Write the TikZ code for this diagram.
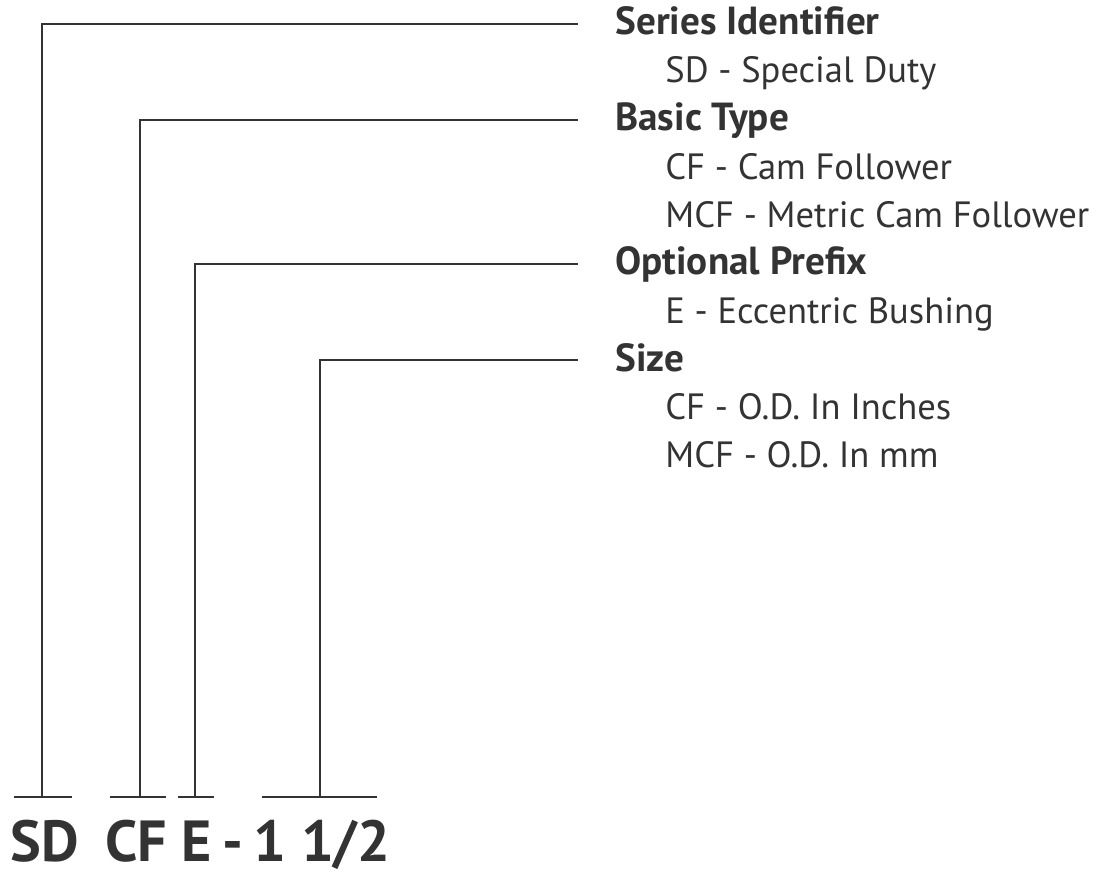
\documentclass[tikz,border=0pt]{standalone}
\usepackage{fontspec}
\setmainfont{PT Sans}
\usetikzlibrary{positioning}

\begin{document}
\begin{tikzpicture}[
    x=0.02cm, y=-0.02cm,
    ink/.style={black!80},
    head/.style={anchor=base west, inner sep=0pt, ink, font=\fontsize{22.3}{26}\selectfont\bfseries},
    item/.style={anchor=base west, inner sep=0pt, ink, font=\fontsize{20.8}{24}\selectfont},
    code/.style={anchor=base, inner sep=0pt, ink, font=\fontsize{33}{38}\selectfont\bfseries},
    lead/.style={ink, line width=1.1pt},
    tick/.style={ink, line width=1.1pt}
]
\useasboundingbox (0,0) rectangle (1096,875);

% part number along the bottom
\node[code] (sd) at (45,861) {SD};
\node[code] (cf) at (136,861) {CF};
\node[code] (ecc) at (197,861) {E};
\node[code] (dash) at (233,861) {-};
\node[code] (size) at (322,861) {1 1/2};

% key on the right
\node[head] (ser) at (615,35) {Series Identifier};
\node[item] (sd1) at (665,83) {SD - Special Duty};
\node[head] (bas) at (615,131) {Basic Type};
\node[item] (cf1) at (665,179) {CF - Cam Follower};
\node[item] (cf2) at (665,227) {MCF - Metric Cam Follower};
\node[head] (opt) at (615,275) {Optional Prefix};
\node[item] (ecc1) at (665,323) {E - Eccentric Bushing};
\node[head] (siz) at (615,371) {Size};
\node[item] (siz1) at (665,419) {CF - O.D. In Inches};
\node[item] (siz2) at (665,467) {MCF - O.D. In mm};

% ticks over the code
\draw[tick] (14,797) -- (72,797);
\draw[tick] (110,797) -- (166,797);
\draw[tick] (178,797) -- (214,797);
\draw[tick] (262,797) -- (377,797);

\coordinate (k1) at (42,797);
\coordinate (k2) at (140,797);
\coordinate (k3) at (195,797);
\coordinate (k4) at (320,797);
\path (ser.base west) ++(-37,-11) coordinate (e1);
\path (bas.base west) ++(-37,-11) coordinate (e2);
\path (opt.base west) ++(-37,-11) coordinate (e3);
\path (siz.base west) ++(-37,-11) coordinate (e4);

\draw[lead] (k1) |- (e1);
\draw[lead] (k2) |- (e2);
\draw[lead] (k3) |- (e3);
\draw[lead] (k4) |- (e4);
\end{tikzpicture}
\end{document}
